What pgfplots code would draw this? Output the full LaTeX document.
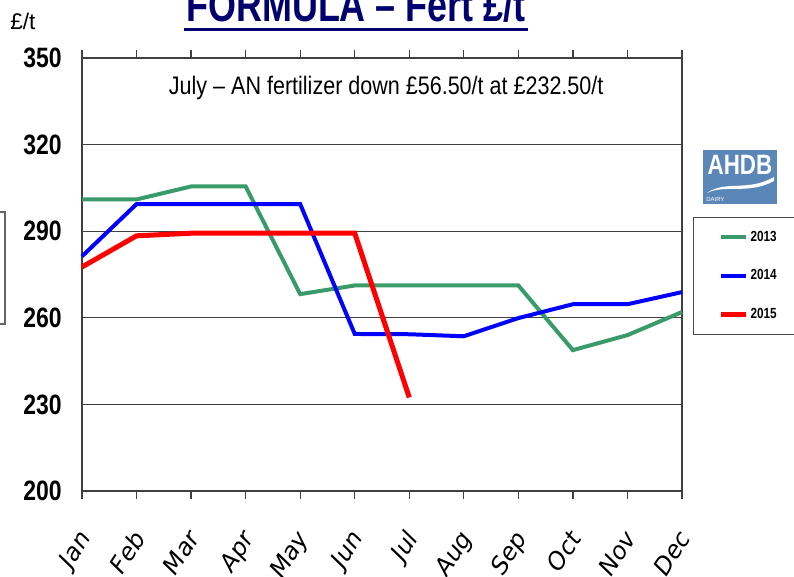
\documentclass[border=0pt]{standalone}
\usepackage{pgfplots}
\pgfplotsset{compat=1.18}
\usepackage{fontspec}
\setmainfont{Liberation Sans}
\newfontfamily\narrowfont[FakeStretch=0.82]{Liberation Sans}
\newfontfamily\legfont[FakeStretch=0.8]{Liberation Sans}
\newfontfamily\annfont[FakeStretch=0.85]{Liberation Sans}
\newfontfamily\titlefont[FakeStretch=0.77]{Liberation Sans}
\newfontfamily\monthfont{DejaVu Sans}
\definecolor{gA}{RGB}{58,155,106}
\definecolor{navy}{RGB}{0,0,110}
\definecolor{ahdb}{RGB}{90,134,184}
\begin{document}
\begin{tikzpicture}[x=0.75pt,y=0.75pt]
\path[use as bounding box] (0,0) rectangle (794,576);
% title
\node[font=\titlefont\bfseries\fontsize{35}{35}\selectfont, text=navy, anchor=base, inner sep=0pt] at (356,554.3) {FORMULA – Fert £/t};
\draw[navy, line width=1.8pt] (184,546.5) -- (528,546.5);
\node[font=\fontsize{17}{17}\selectfont, anchor=base west, inner sep=0pt] at (10,546) {£/t};
% left box fragment
\draw[black!60, line width=0.8pt] (-30,576-212) rectangle (5,576-324);
% logo
\fill[ahdb] (703,576-204) rectangle (777,576-150);
\node[text=white, font=\legfont\bfseries\fontsize{21}{21}\selectfont, inner sep=0pt] at (740,576-165) {AHDB};
\fill[white] (707,576-193) .. controls (725,576-180) and (748,576-192) .. (774,576-177) -- (774,576-181) .. controls (748,576-195) and (725,576-184) .. (707,576-193) -- cycle;
\node[text=white, font=\fontsize{4.5}{5}\selectfont, anchor=west, inner sep=0pt] at (706,576-199) {DAIRY};
\begin{axis}[
  at={(61.5pt,63.75pt)}, anchor=south west,
  scale only axis, width=450pt, height=324.75pt,
  xmin=1, xmax=12, ymin=200, ymax=350,
  xtick={1,...,12},
  xticklabels={Jan,Feb,Mar,Apr,May,Jun,Jul,Aug,Sep,Oct,Nov,Dec},
  ytick={200,230,260,290,320,350},
  ymajorgrids, grid style={black!75, line width=1pt},
  axis line style={black!75, line width=1pt},
  major tick style={black!75, line width=1pt},
  major tick length=6pt,
  xtick align=outside, ytick align=inside,
  /pgf/number format/assume math mode=true,
  yticklabel style={font=\narrowfont\bfseries\fontsize{21}{21}\selectfont, inner sep=0pt, anchor=east, xshift=-15pt},
  xticklabel style={font=\monthfont\itshape\fontsize{18}{18}\selectfont, inner sep=0pt, xshift=-4pt, yshift=-22pt, rotate=57, anchor=north east},
  legend style={at={(1.018,0.633)}, anchor=north west, draw=black!70, line width=0.8pt,
    inner xsep=18.75pt, inner ysep=8.5pt, row sep=17pt,
    font=\legfont\bfseries\fontsize{11}{11}\selectfont,
    nodes={inner sep=1.5pt, text width=60pt}},
  legend cell align=left,
  legend image code/.code={\draw[#1] (0pt,0pt) -- (19pt,0pt);},
  clip=false,
]
\addplot[gA, line width=3pt] coordinates {(1,301) (2,301) (3,305.5) (4,305.5) (5,268.2) (6,271.2) (7,271.2) (8,271.2) (9,271.2) (10,248.8) (11,254) (12,262)};
\addlegendentry{2013}
\addplot[blue, line width=3pt] coordinates {(1,281.3) (2,299.4) (3,299.4) (4,299.4) (5,299.4) (6,254.4) (7,254.3) (8,253.6) (9,259.9) (10,264.7) (11,264.7) (12,268.9)};
\addlegendentry{2014}
\addplot[red, line width=3.75pt] coordinates {(1,277.6) (2,288.4) (3,289.3) (4,289.3) (5,289.3) (6,289.3) (7,232.4)};
\addlegendentry{2015}
\node[font=\annfont\fontsize{19}{19}\selectfont] at (axis description cs:0.507,0.931) {July – AN fertilizer down £56.50/t at £232.50/t};
\end{axis}
\end{tikzpicture}
\end{document}
